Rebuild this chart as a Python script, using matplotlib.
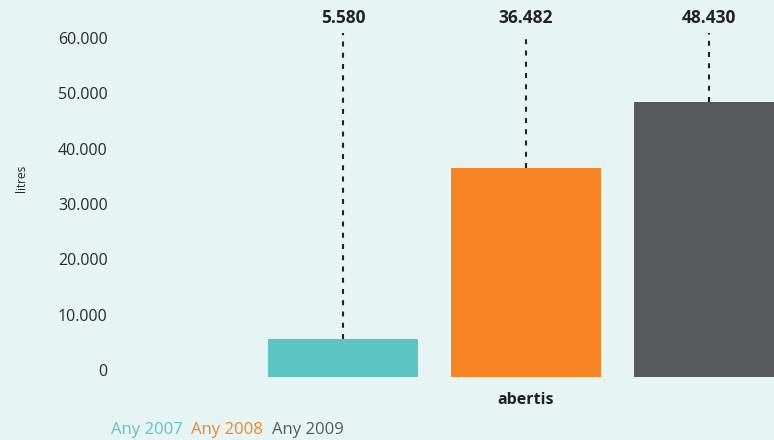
import matplotlib
matplotlib.use("Agg")
import matplotlib.pyplot as plt
from matplotlib.ticker import FuncFormatter

# data
years = ["Any 2007", "Any 2008", "Any 2009"]
values = [5580, 36482, 48430]
colors = ["#5bc5c4", "#f58423", "#58595b"]
yticks = [0, 10000, 20000, 30000, 40000, 50000, 60000]
category = "abertis"

plt.rcParams['font.family'] = ['Open Sans', 'DejaVu Sans']

bg = "#e6f4f3"
fig = plt.figure(figsize=(7.74, 4.4), dpi=100, facecolor=bg)
ax = fig.add_axes([116 / 774, 55 / 440, 658 / 774, 385 / 440])
ax.set_facecolor(bg)

def fmt(v, pos=None):
    return f"{int(v):,}".replace(",", ".")

xs = [0, 1, 2]
ax.bar(xs, [v + 1300 for v in values], bottom=-1300, width=0.82, color=colors)

# dashed leader lines and value labels above the plot
for x, v in zip(xs, values):
    ax.plot([x, x], [v, 60900], ls=(0, (2.4, 3.0)), color="#222222", lw=1.5,
            zorder=1, clip_on=False)
    ax.text(x, 63600, fmt(v), ha="center", va="center", fontsize=12.5,
            fontweight="bold", color="#222222")

ax.set_xlim(-1.24, 2.355)
ax.set_ylim(-2715, 66868)
ax.set_yticks(yticks)
ax.yaxis.set_major_formatter(FuncFormatter(fmt))
ax.tick_params(axis="y", length=0, pad=6, labelsize=11.5, labelcolor="#2a2a2a")
ax.set_xticks([1])
ax.set_xticklabels([category], fontweight="bold")
ax.tick_params(axis="x", length=0, pad=5, labelsize=11.5, labelcolor="#222222")
for s in ax.spines.values():
    s.set_visible(False)

fig.text(22 / 774, 1 - 178 / 440, "litres", rotation=90, ha="center",
         va="center", fontsize=8.5, color="#222222")

# legend as coloured words
lx = [111, 191, 272]
for x, lab, c in zip(lx, years, colors):
    fig.text(x / 774, 10 / 440, lab, ha="left", va="center", fontsize=12, color=c)

fig.savefig("out.png", dpi=100, facecolor=bg)
